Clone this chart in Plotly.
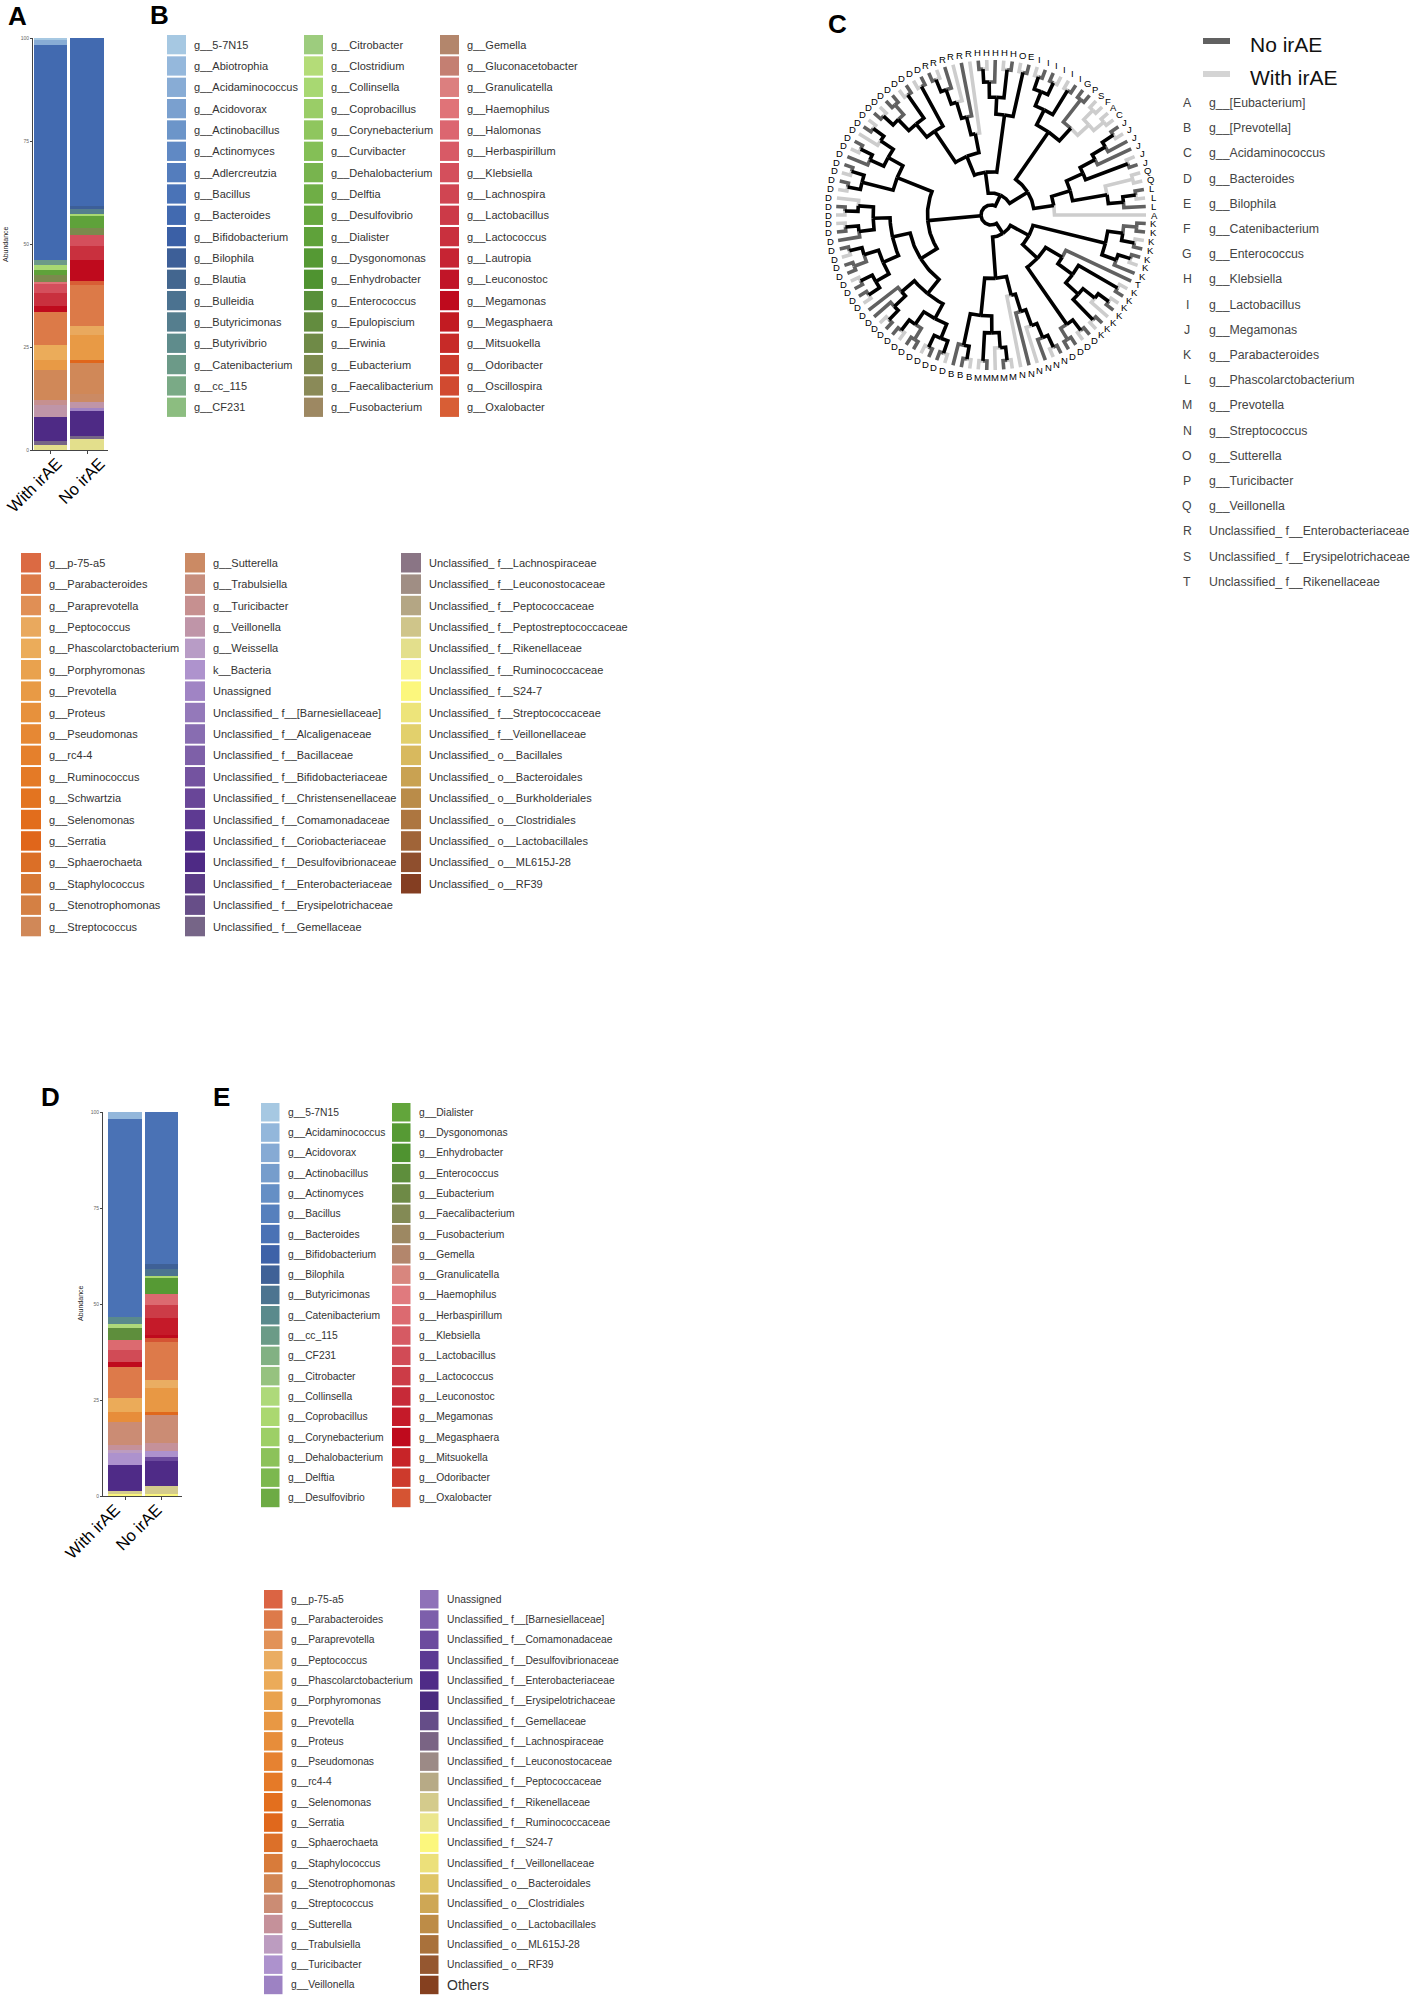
import numpy as np
import plotly.graph_objects as go

W, H = 1417, 1995
FONT = "Arial, Liberation Sans, sans-serif"

groups = ["With irAE", "No irAE"]

# ---- panel A / B : taxa in legend order (first level is stacked on top)
b_taxa = [
    "g__5-7N15", "g__Abiotrophia", "g__Acidaminococcus", "g__Acidovorax", "g__Actinobacillus",
    "g__Actinomyces", "g__Adlercreutzia", "g__Bacillus", "g__Bacteroides", "g__Bifidobacterium",
    "g__Bilophila", "g__Blautia", "g__Bulleidia", "g__Butyricimonas", "g__Butyrivibrio",
    "g__Catenibacterium", "g__cc_115", "g__CF231",
    "g__Citrobacter", "g__Clostridium", "g__Collinsella", "g__Coprobacillus", "g__Corynebacterium",
    "g__Curvibacter", "g__Dehalobacterium", "g__Delftia", "g__Desulfovibrio", "g__Dialister",
    "g__Dysgonomonas", "g__Enhydrobacter", "g__Enterococcus", "g__Epulopiscium", "g__Erwinia",
    "g__Eubacterium", "g__Faecalibacterium", "g__Fusobacterium",
    "g__Gemella", "g__Gluconacetobacter", "g__Granulicatella", "g__Haemophilus", "g__Halomonas",
    "g__Herbaspirillum", "g__Klebsiella", "g__Lachnospira", "g__Lactobacillus", "g__Lactococcus",
    "g__Lautropia", "g__Leuconostoc", "g__Megamonas", "g__Megasphaera", "g__Mitsuokella",
    "g__Odoribacter", "g__Oscillospira", "g__Oxalobacter",
    "g__p-75-a5", "g__Parabacteroides", "g__Paraprevotella", "g__Peptococcus",
    "g__Phascolarctobacterium", "g__Porphyromonas", "g__Prevotella", "g__Proteus", "g__Pseudomonas",
    "g__rc4-4", "g__Ruminococcus", "g__Schwartzia", "g__Selenomonas", "g__Serratia",
    "g__Sphaerochaeta", "g__Staphylococcus", "g__Stenotrophomonas", "g__Streptococcus",
    "g__Sutterella", "g__Trabulsiella", "g__Turicibacter", "g__Veillonella", "g__Weissella",
    "k__Bacteria", "Unassigned", "Unclassified_ f__[Barnesiellaceae]", "Unclassified_ f__Alcaligenaceae",
    "Unclassified_ f__Bacillaceae", "Unclassified_ f__Bifidobacteriaceae",
    "Unclassified_ f__Christensenellaceae", "Unclassified_ f__Comamonadaceae",
    "Unclassified_ f__Coriobacteriaceae", "Unclassified_ f__Desulfovibrionaceae",
    "Unclassified_ f__Enterobacteriaceae", "Unclassified_ f__Erysipelotrichaceae",
    "Unclassified_ f__Gemellaceae",
    "Unclassified_ f__Lachnospiraceae", "Unclassified_ f__Leuconostocaceae",
    "Unclassified_ f__Peptococcaceae", "Unclassified_ f__Peptostreptococcaceae",
    "Unclassified_ f__Rikenellaceae", "Unclassified_ f__Ruminococcaceae", "Unclassified_ f__S24-7",
    "Unclassified_ f__Streptococcaceae", "Unclassified_ f__Veillonellaceae",
    "Unclassified_ o__Bacillales", "Unclassified_ o__Bacteroidales", "Unclassified_ o__Burkholderiales",
    "Unclassified_ o__Clostridiales", "Unclassified_ o__Lactobacillales", "Unclassified_ o__ML615J-28",
    "Unclassified_ o__RF39",
]
b_colors = [
    "#a6c8e2", "#95b8dc", "#88acd5", "#7aa0cf", "#6c95c9", "#6089c4", "#547dbd", "#4a73b7", "#426ab0",
    "#3b60a6", "#3d5f98", "#43668f", "#4b7290", "#557e8e", "#5f8c8c", "#6c9a88", "#7aaa86", "#8cbd80",
    "#9dcc7e", "#b4dc78", "#a8d872", "#9acd67", "#8fc65e", "#84bf56", "#78b44e", "#6fae46", "#67a83f",
    "#5fa23a", "#559934", "#4f9330", "#58903a", "#638c3f", "#6f8a47", "#7b8a4d", "#8a8a58", "#9d8862",
    "#b3866c", "#c47f72", "#dc7f7f", "#e07378", "#dc6670", "#d85a66", "#d44f5c", "#d04552", "#cc3a48",
    "#c9303e", "#c62433", "#c11528", "#bf0a1d", "#c21b22", "#c72a28", "#cb3a2c", "#d14a30", "#d85e35",
    "#db6a43", "#dc7a48", "#e08f55", "#e9a95e", "#ebac5a", "#e9a24e", "#e89a45", "#e7913c", "#e68834",
    "#e5802c", "#e47a26", "#e37420", "#e26d1c", "#e0661b", "#db6f27", "#d77834", "#d48044", "#d08858",
    "#cb8a64", "#c78e7c", "#c69090", "#bf95a8", "#b89cc6", "#ae93cd", "#a084c4", "#9479ba", "#886db1",
    "#7e60a8", "#7453a0", "#694698", "#5e3a92", "#55318c", "#4e2a85", "#5a3a86", "#674e88", "#766587",
    "#8a7585", "#a08e84", "#b4a684", "#cfc58a", "#e3df8c", "#f9f48a", "#fcf77d", "#ede47a", "#e2d06c",
    "#d8b95e", "#c9a252", "#ba8c49", "#ad7640", "#a06438", "#8f4f2e", "#843e22",
]

# relative abundance (%)
a_with = {
    "g__5-7N15": 0.3, "g__Acidaminococcus": 1.3, "g__Bacteroides": 52.4, "g__Catenibacterium": 1.2,
    "g__Collinsella": 1.0, "g__Dialister": 1.4, "g__Eubacterium": 1.6, "g__Haemophilus": 0.6,
    "g__Klebsiella": 2.2, "g__Lactococcus": 3.1, "g__Megamonas": 1.4, "g__Parabacteroides": 8.1,
    "g__Phascolarctobacterium": 3.6, "g__Prevotella": 2.4, "g__Streptococcus": 7.3,
    "g__Turicibacter": 1.2, "g__Veillonella": 3.0, "Unclassified_ f__Desulfovibrionaceae": 5.7,
    "Unclassified_ f__Gemellaceae": 1.0, "Unclassified_ f__Rikenellaceae": 1.2,
}
a_no = {
    "g__Bacteroides": 40.8, "g__Bilophila": 0.8, "g__Butyricimonas": 1.0, "g__Collinsella": 0.6,
    "g__Dialister": 3.0, "g__Eubacterium": 1.6, "g__Klebsiella": 2.8, "g__Lactococcus": 3.2,
    "g__Megamonas": 5.3, "g__Oxalobacter": 0.8, "g__Parabacteroides": 10.0, "g__Peptococcus": 2.2,
    "g__Prevotella": 6.1, "g__Serratia": 0.8, "g__Streptococcus": 7.3, "g__Sutterella": 2.0,
    "g__Veillonella": 1.6, "Unassigned": 0.6, "Unclassified_ f__Desulfovibrionaceae": 6.1,
    "Unclassified_ f__Gemellaceae": 0.8, "Unclassified_ f__Rikenellaceae": 2.6,
}

# ---- panel D / E
e_taxa = [
    "g__5-7N15", "g__Acidaminococcus", "g__Acidovorax", "g__Actinobacillus", "g__Actinomyces",
    "g__Bacillus", "g__Bacteroides", "g__Bifidobacterium", "g__Bilophila", "g__Butyricimonas",
    "g__Catenibacterium", "g__cc_115", "g__CF231", "g__Citrobacter", "g__Collinsella",
    "g__Coprobacillus", "g__Corynebacterium", "g__Dehalobacterium", "g__Delftia", "g__Desulfovibrio",
    "g__Dialister", "g__Dysgonomonas", "g__Enhydrobacter", "g__Enterococcus", "g__Eubacterium",
    "g__Faecalibacterium", "g__Fusobacterium", "g__Gemella", "g__Granulicatella", "g__Haemophilus",
    "g__Herbaspirillum", "g__Klebsiella", "g__Lactobacillus", "g__Lactococcus", "g__Leuconostoc",
    "g__Megamonas", "g__Megasphaera", "g__Mitsuokella", "g__Odoribacter", "g__Oxalobacter",
    "g__p-75-a5", "g__Parabacteroides", "g__Paraprevotella", "g__Peptococcus",
    "g__Phascolarctobacterium", "g__Porphyromonas", "g__Prevotella", "g__Proteus", "g__Pseudomonas",
    "g__rc4-4", "g__Selenomonas", "g__Serratia", "g__Sphaerochaeta", "g__Staphylococcus",
    "g__Stenotrophomonas", "g__Streptococcus", "g__Sutterella", "g__Trabulsiella", "g__Turicibacter",
    "g__Veillonella",
    "Unassigned", "Unclassified_ f__[Barnesiellaceae]", "Unclassified_ f__Comamonadaceae",
    "Unclassified_ f__Desulfovibrionaceae", "Unclassified_ f__Enterobacteriaceae",
    "Unclassified_ f__Erysipelotrichaceae", "Unclassified_ f__Gemellaceae",
    "Unclassified_ f__Lachnospiraceae", "Unclassified_ f__Leuconostocaceae",
    "Unclassified_ f__Peptococcaceae", "Unclassified_ f__Rikenellaceae",
    "Unclassified_ f__Ruminococcaceae", "Unclassified_ f__S24-7", "Unclassified_ f__Veillonellaceae",
    "Unclassified_ o__Bacteroidales", "Unclassified_ o__Clostridiales",
    "Unclassified_ o__Lactobacillales", "Unclassified_ o__ML615J-28", "Unclassified_ o__RF39", "Others",
]
e_colors = [
    "#a6c8e2", "#93b7db", "#86aad4", "#769dcc", "#658fc5", "#5680bd", "#4a72b5", "#3e62a8", "#3f6197",
    "#4c7490", "#5a8a8c", "#6b9b87", "#82b183", "#96c27f", "#aed97a", "#abd870", "#9dcf66", "#8cc25a",
    "#7cb84f", "#6dab44",
    "#62a53b", "#569a34", "#4f9330", "#5e8e3c", "#6e8a46", "#838a55", "#9d8862", "#b3866c", "#d8867e",
    "#e07a7e", "#dc6a70", "#d65a63", "#d14b56", "#cc3c47", "#c72a38", "#c51a29", "#bf0a1d", "#c72428",
    "#cd3a2c", "#d55433",
    "#db6443", "#dd7a4a", "#e29258", "#eaad62", "#ebab59", "#e9a24e", "#e89844", "#e78d3a", "#e68231",
    "#e57a28", "#e36f1e", "#e0681c", "#dc7029", "#d87b3a", "#d28653", "#cb8c74", "#c5919a", "#bc9cc0",
    "#ad92cd", "#9d82c3",
    "#8f72b8", "#7d5fab", "#6c4b9e", "#5c3a93", "#4f2b87", "#4a2a7f", "#654d88", "#7a6484", "#9c8a86",
    "#b7aa86", "#d4cb8c", "#ebe68e", "#fcf77d", "#ece07a", "#dfc566", "#cea755", "#bd8c47", "#a9713b",
    "#955730", "#85401f",
]
d_with = {
    "g__Acidaminococcus": 1.7, "g__Bacteroides": 51.7, "g__Catenibacterium": 1.9, "g__Collinsella": 0.9,
    "g__Enterococcus": 3.1, "g__Herbaspirillum": 2.8, "g__Lactobacillus": 3.0, "g__Megasphaera": 1.3,
    "g__Parabacteroides": 8.2, "g__Phascolarctobacterium": 3.5, "g__Proteus": 2.6,
    "g__Streptococcus": 6.1, "g__Sutterella": 1.3, "g__Trabulsiella": 0.7, "g__Turicibacter": 3.2,
    "Unclassified_ f__Enterobacteriaceae": 6.7, "Unclassified_ f__Rikenellaceae": 0.9,
    "Unclassified_ f__S24-7": 0.4,
}
d_no = {
    "g__Bacteroides": 39.7, "g__Bilophila": 1.3, "g__Butyricimonas": 1.6, "g__Coprobacillus": 0.6,
    "g__Dysgonomonas": 4.1, "g__Herbaspirillum": 2.9, "g__Lactococcus": 3.5, "g__Megamonas": 4.4,
    "g__Megasphaera": 0.8, "g__Oxalobacter": 0.9, "g__Parabacteroides": 10.0, "g__Peptococcus": 2.2,
    "g__Prevotella": 6.1, "g__Serratia": 0.9, "g__Streptococcus": 7.2, "g__Sutterella": 2.2,
    "g__Turicibacter": 1.5, "Unclassified_ f__Comamonadaceae": 0.9,
    "Unclassified_ f__Enterobacteriaceae": 6.5, "Unclassified_ f__Rikenellaceae": 2.3,
    "Unclassified_ f__S24-7": 0.4,
}

# ---- panel C : tree (letter + n = No irAE, w = With irAE), tips counter-clockwise from 3 o'clock
tree_letters = list("ABCDEFGHIJKLMNOPQRST")
tree_names = [
    "g__[Eubacterium]", "g__[Prevotella]", "g__Acidaminococcus", "g__Bacteroides", "g__Bilophila",
    "g__Catenibacterium", "g__Enterococcus", "g__Klebsiella", "g__Lactobacillus", "g__Megamonas",
    "g__Parabacteroides", "g__Phascolarctobacterium", "g__Prevotella", "g__Streptococcus",
    "g__Sutterella", "g__Turicibacter", "g__Veillonella", "Unclassified_ f__Enterobacteriaceae",
    "Unclassified_ f__Erysipelotrichaceae", "Unclassified_ f__Rikenellaceae",
]
c_right = "((Aw,(((Ln,(Lw,Ln)),(Qw,Qw)),((Jn,Jw),(Jn,(Jn,(Jw,Jn)))))),((((Cw,Aw),(Fw,Sw)),(Pn,Gn)),((In,Iw),((Iw,In),(In,Iw)))))"
c_top = "((En,Ow),((Hn,Hw),(Hn,(Hw,Hn))))"
c_rd = "((Rw,(Rn,(Rw,(Rn,(Rw,Rn))))),((Dn,Dw),((Dn,Dw),((Dn,Dn),(Dw,Dn)))))"
c_left = ("(((((Dw,Dn),Dw),((Dn,Dw),Dn)),((Dn,Dw),(Dn,Dw))),((((Dw,(Dn,Dw)),((Dw,Dn),Dn)),"
          "(((Dn,Dw),(Dn,Dn)),((Dw,Dn),(Dn,Dw)))),((Dn,(Dn,(Dw,Dn))),(((Dn,Dw),(Dn,Dn)),((Dw,Dn),(Dn,Dw))))))")
c_bottom = ("((((Bn,(Bn,Bw)),((Mw,Mn),(Mw,(Mn,Mw)))),(Nw,(Nn,(Nw,(Nn,(Nw,Nn)))))),"
            "((((Dn,Dn),(Dw,Dn)),((((Kw,Kn),(Kw,(Kn,Kw))),(Kn,Kw)),Tn)),((Kn,(Kw,Kn)),((Kn,Kw),(Kn,Kn)))))")
newick = "((" + c_right + ",(" + c_top + "," + c_rd + "))," + c_left + "," + c_bottom + ")"


def px(x):
    return x / W


def py(y):
    return 1 - y / H


fig = go.Figure()
shapes = []
annots = []


def text(t, x, y, size, color="#333333", xanchor="left", bold=False, angle=0, xref="paper", yref="paper"):
    annots.append(dict(text="<b>%s</b>" % t if bold else t, x=x, y=y, xref=xref, yref=yref,
                       xanchor=xanchor, yanchor="middle", showarrow=False, textangle=angle,
                       borderpad=0, font=dict(size=size, color=color, family=FONT)))


# ---- stacked bars
def add_bars(taxa, colors, vw, vn, n):
    for t, c in reversed(list(zip(taxa, colors))):
        v = [vw.get(t, 0), vn.get(t, 0)]
        if max(v) == 0:
            continue
        fig.add_trace(go.Bar(x=groups, y=v, width=0.91, marker=dict(color=c, line=dict(width=0)),
                             xaxis="x%d" % n, yaxis="y%d" % n, showlegend=False, hoverinfo="skip"))


add_bars(b_taxa, b_colors, a_with, a_no, 1)
add_bars(e_taxa, e_colors, d_with, d_no, 2)


def bar_axes(n, x0, x1, y0, y1, c0, shifts):
    # c0 = pixel centre of first bar, bars 36.5 px apart
    u = 36.5
    xr = [-(c0 - x0) / u, (x1 - c0) / u]
    sfx = "" if n == 1 else str(n)
    fig.update_layout(**{
        "xaxis" + sfx: dict(domain=[px(x0), px(x1)], range=xr, type="category", anchor="y%d" % n,
                            showline=True, linecolor="#444", linewidth=1, ticks="outside", ticklen=3,
                            tickcolor="#444", showticklabels=False, showgrid=False, zeroline=False,
                            automargin=False),
        "yaxis" + sfx: dict(domain=[py(y1), py(y0)], range=[0, 100], anchor="x%d" % n,
                            tickvals=[0, 25, 50, 75, 100], ticksuffix="%", showline=True,
                            linecolor="#444", linewidth=1, ticks="outside", ticklen=2,
                            tickcolor="#444", showgrid=False, zeroline=False, automargin=False,
                            tickfont=dict(size=5, color="#666", family=FONT)),
    })
    # slanted category labels (ggplot style, right end near the tick)
    for g, s in zip(groups, shifts):
        annots.append(dict(text=g, x=g, y=0, xref="x%d" % n, yref="y%d" % n, xanchor="right",
                           yanchor="top", xshift=s, yshift=-3, textangle=-45, showarrow=False,
                           borderpad=0, font=dict(size=16.5, color="black", family=FONT)))


bar_axes(1, 33, 108, 38, 450, 50.5, [16, 22])
bar_axes(2, 103, 182, 1112, 1496, 125, [0, 5])
text("Abundance", px(5), py(244), 7, "#222", xanchor="center", angle=-90)
text("Abundance", px(80), py(1303), 7, "#222", xanchor="center", angle=-90)


# ---- legend grids
def grid(names, colors, cols_x, top, step, sw, sh, nrows, fsize, gap):
    for k, (nm, c) in enumerate(zip(names, colors)):
        col, row = divmod(k, nrows)
        x0 = cols_x[col]
        y0 = top + row * step
        shapes.append(dict(type="rect", xref="paper", yref="paper", x0=px(x0), x1=px(x0 + sw),
                           y0=py(y0 + sh), y1=py(y0), fillcolor=c, line=dict(width=0), layer="above"))
        text(nm, px(x0 + sw + gap), py(y0 + sh / 2), 14 if nm == "Others" else fsize)


grid(b_taxa[:54], b_colors[:54], [167, 304, 440], 35, 21.33, 19, 19.3, 18, 11, 7)
grid(b_taxa[54:], b_colors[54:], [21, 185, 401], 553, 21.4, 20, 19.5, 18, 11, 7)
grid(e_taxa[:40], e_colors[:40], [261, 392], 1103, 20.3, 18.5, 18.5, 20, 10.3, 7)
grid(e_taxa[40:], e_colors[40:], [264, 420], 1590, 20.3, 18.5, 18.5, 20, 10.3, 7)


# ---- tree
def parse(s):
    pos = 0

    def node():
        nonlocal pos
        if s[pos] == "(":
            pos += 1
            kids = [node()]
            while s[pos] == ",":
                pos += 1
                kids.append(node())
            pos += 1
            return {"kids": kids}
        j = pos
        while s[pos] not in ",()":
            pos += 1
        return {"label": s[j], "grp": s[j + 1]}

    return node()


root = parse(newick)
tips = []


def walk(nd):
    if "kids" not in nd:
        nd["i"] = len(tips)
        nd["h"] = 0
        nd["g"] = {nd["grp"]}
        tips.append(nd)
        return
    for k in nd["kids"]:
        walk(k)
    nd["h"] = 1 + max(k["h"] for k in nd["kids"])
    nd["g"] = set().union(*[k["g"] for k in nd["kids"]])


walk(root)
NT = len(tips)
R_TIP, R_LAB = 155, 163
HMAX = root["h"]


def place(nd):
    if "kids" not in nd:
        nd["a"] = nd["i"] * 360.0 / NT
    else:
        for k in nd["kids"]:
            place(k)
        nd["a"] = np.mean([k["a"] for k in nd["kids"]])
    nd["r"] = max(R_TIP * (1 - (nd["h"] / HMAX) ** 1.3), 10)


place(root)

edge_col = {"w": "#cdcdcd", "n": "#616161", "x": "#000000"}
paths = {"w": ([], []), "n": ([], []), "x": ([], [])}


def edges(nd):
    if "kids" not in nd:
        return
    for k in nd["kids"]:
        key = list(k["g"])[0] if len(k["g"]) == 1 else "x"
        n = max(2, int(abs(k["a"] - nd["a"]) / 1.5) + 2)
        ang = np.radians(np.linspace(nd["a"], k["a"], n))
        xs = list(nd["r"] * np.cos(ang)) + [k["r"] * np.cos(ang[-1]), None]
        ys = list(nd["r"] * np.sin(ang)) + [k["r"] * np.sin(ang[-1]), None]
        paths[key][0].extend(xs)
        paths[key][1].extend(ys)
        edges(k)


edges(root)
for key in ["w", "n", "x"]:
    fig.add_trace(go.Scatter(x=paths[key][0], y=paths[key][1], mode="lines", xaxis="x3", yaxis="y3",
                             line=dict(color=edge_col[key], width=3.6), showlegend=False,
                             hoverinfo="skip"))

for t in tips:
    a = np.radians(t["a"])
    text(t["label"], R_LAB * np.cos(a), R_LAB * np.sin(a), 9.5, "#000", xanchor="center",
         xref="x3", yref="y3")

# tree axes: 360 x 360 px square centred on (991, 215)
fig.update_layout(
    xaxis3=dict(domain=[px(811), px(1171)], range=[-180, 180], visible=False, anchor="y3",
                automargin=False),
    yaxis3=dict(domain=[py(395), py(35)], range=[-180, 180], visible=False, anchor="x3",
                automargin=False),
)

# tree legends
for yy, c, lab in [(41, edge_col["n"], "No irAE"), (74, "#d4d4d4", "With irAE")]:
    shapes.append(dict(type="line", xref="paper", yref="paper", x0=px(1203), x1=px(1230),
                       y0=py(yy), y1=py(yy), line=dict(color=c, width=6)))
    text(lab, px(1249), py(yy + 3), 21, "#111")
for k, (l, nm) in enumerate(zip(tree_letters, tree_names)):
    yy = 103 + k * 25.2
    text(l, px(1187), py(yy), 12.3, "#444", xanchor="center")
    text(nm, px(1208), py(yy), 12.3, "#444")

# panel letters
for l, x, y in [("A", 17, 16), ("B", 159, 15), ("C", 837, 24), ("D", 50, 1097), ("E", 221, 1097)]:
    text(l, px(x), py(y), 26, "#000", xanchor="center", bold=True)

fig.update_layout(
    template="none",
    width=W, height=H, autosize=False, margin=dict(l=0, r=0, t=0, b=0, pad=0),
    paper_bgcolor="white", plot_bgcolor="white", barmode="stack",
    shapes=shapes, annotations=annots, showlegend=False,
)

# page body has a default 8px margin; drop it so the figure sits at the window origin
fig.write_html("out.html", config={"displayModeBar": False},
               post_script="document.body.style.margin='0px';document.body.style.overflow='hidden';")
